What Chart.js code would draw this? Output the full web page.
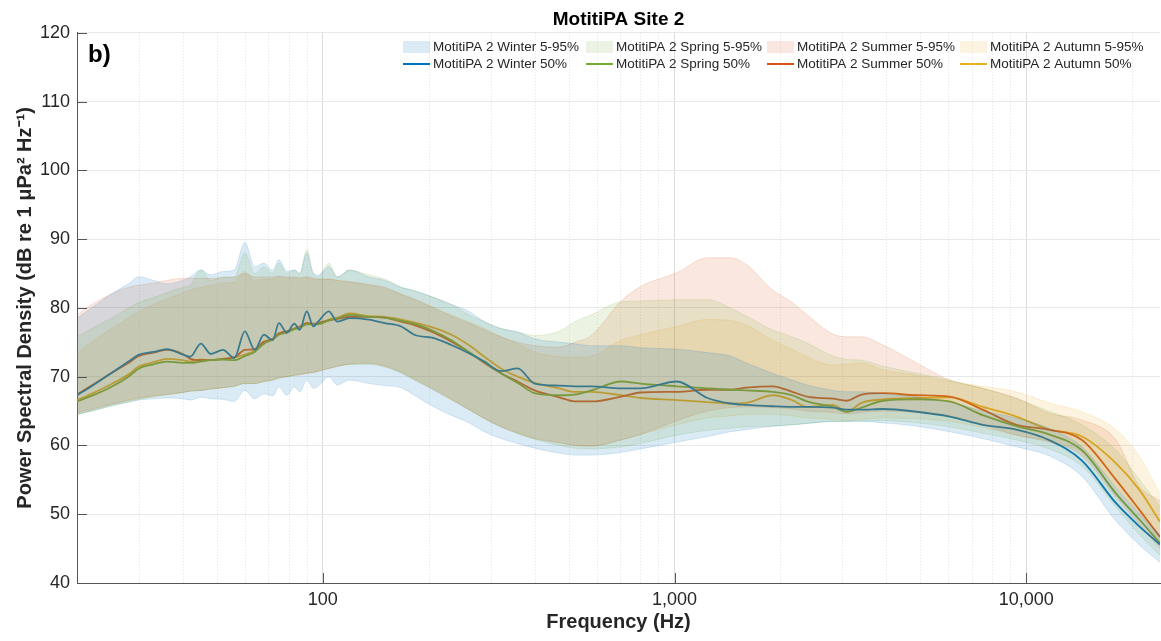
<!DOCTYPE html>
<html>
<head>
<meta charset="utf-8">
<title>MotitiPA Site 2</title>
<script src="https://cdn.jsdelivr.net/npm/chart.js@4.4.1/dist/chart.umd.min.js"></script>
<style>
  html, body { margin:0; padding:0; background:#fff; }
  #wrap { position:relative; width:1161px; height:641px; }
</style>
</head>
<body>
<div id="wrap"><canvas id="psdChart"></canvas></div>
<script>
const FONT = '"Liberation Sans", Arial, Helvetica, sans-serif';
const TEXT = "#262626";

// frequency grid (Hz)
const freqs = [20, 22, 25, 28, 30, 33, 36, 40, 42, 45,
    48, 52, 56, 60, 64, 68, 72, 75, 79, 83,
    86, 90, 94, 97, 104, 110, 119, 135, 150, 167,
    182, 207, 232, 260, 288, 321, 358, 400, 470, 520,
    580, 705, 800, 1015, 1240, 1440, 1600, 1900, 2160, 2380,
    2820, 3090, 3400, 3920, 4880, 6060, 7520, 9370, 11600, 14400,
    18000, 21000, 24000];

const majorTicks = [100, 1000, 10000];
const minorTicks = [30, 40, 50, 60, 70, 80, 90, 200, 300, 400, 500, 600, 700, 800, 900,
    2000, 3000, 4000, 5000, 6000, 7000, 8000, 9000, 20000];
const yTicks = [40, 50, 60, 70, 80, 90, 100, 110, 120];

const seasons = ["Winter", "Spring", "Summer", "Autumn"];
const seasonColors = ["0,114,189", "119,172,48", "217,83,25", "237,177,32"];

// medians (dB)
const winter50 = [67.3, 68.6, 70.5, 72.2, 73.2, 73.6, 74.0, 73.2, 72.9, 74.8,
    73.3, 73.9, 72.7, 76.6, 73.9, 76.1, 75.3, 77.8, 76.4, 77.7,
    76.8, 79.5, 77.3, 78.0, 79.5, 78.0, 78.5, 78.3, 77.8, 77.3,
    76.1, 75.6, 74.6, 73.4, 72.2, 70.8, 71.2, 69.0, 68.7, 68.6,
    68.6, 68.3, 68.3, 69.3, 66.9, 66.1, 65.9, 65.7, 65.6, 65.6,
    65.5, 65.2, 65.2, 65.3, 64.9, 64.2, 63.0, 62.3, 60.8, 57.8,
    51.6, 48.2, 45.6];
const spring50 = [66.4, 67.2, 68.5, 70.0, 71.2, 71.8, 72.2, 72.0, 72.0, 72.2,
    72.4, 72.5, 72.4, 73.0, 73.6, 74.8, 75.4, 76.1, 76.4, 76.9,
    77.1, 77.6, 77.6, 77.6, 78.2, 78.5, 79.0, 78.7, 78.6, 78.1,
    77.7, 76.6, 75.3, 73.6, 72.1, 70.5, 69.1, 67.6, 67.3, 67.4,
    68.0, 69.3, 69.0, 68.6, 68.3, 68.1, 68.0, 67.8, 67.3, 66.4,
    65.6, 64.9, 65.5, 66.5, 66.7, 66.4, 64.4, 62.8, 61.6, 59.3,
    53.0, 49.2, 45.8];
const summer50 = [67.4, 68.7, 70.5, 72.0, 73.0, 73.5, 73.9, 73.3, 72.6, 72.4,
    72.4, 72.6, 72.8, 73.9, 74.0, 75.1, 75.5, 76.3, 76.6, 77.0,
    77.3, 77.8, 77.7, 77.8, 78.2, 78.4, 78.7, 78.7, 78.6, 78.0,
    77.5, 76.4, 75.1, 73.6, 72.0, 70.5, 69.3, 68.0, 67.0, 66.4,
    66.4, 67.1, 67.7, 67.8, 68.1, 68.1, 68.4, 68.6, 67.8, 67.1,
    66.8, 66.5, 67.4, 67.6, 67.3, 67.1, 65.2, 63.0, 62.3, 60.8,
    55.0, 50.6, 46.7];
const autumn50 = [66.6, 67.5, 68.9, 70.3, 71.5, 72.1, 72.6, 72.4, 72.2, 72.5,
    72.4, 72.6, 72.8, 73.2, 73.8, 75.0, 75.5, 76.2, 76.6, 77.0,
    77.2, 77.8, 77.6, 77.7, 78.3, 78.6, 79.2, 78.8, 78.7, 78.3,
    77.9, 77.1, 76.1, 74.6, 72.9, 71.2, 70.0, 69.1, 68.3, 67.8,
    67.8, 67.3, 66.9, 66.6, 66.3, 66.1, 66.2, 67.3, 66.6, 65.6,
    65.9, 64.9, 66.2, 66.7, 66.9, 67.0, 65.6, 64.2, 62.3, 61.3,
    57.4, 53.5, 48.9];

// 95th percentiles
const winter95 = [78.5, 80.0, 82.0, 83.5, 84.5, 84.0, 83.5, 84.0, 84.5, 85.5,
    84.8, 85.3, 85.5, 89.5, 86.0, 86.5, 85.5, 87.0, 85.3, 85.5,
    85.0, 88.0, 85.0, 84.8, 86.0, 84.5, 85.5, 84.5, 84.0, 83.0,
    82.5, 81.5, 80.5, 79.5, 78.0, 77.0, 76.5, 75.5, 75.0, 74.8,
    74.5, 74.5, 74.2, 74.0, 73.5, 73.0, 72.0, 70.5, 69.5, 68.8,
    68.0, 67.8, 67.8, 67.5, 67.0, 66.3, 65.0, 64.0, 62.5, 59.8,
    53.8, 50.0, 47.0];
const spring95 = [75.8, 77.0, 78.5, 80.0, 80.8, 81.5, 82.2, 83.0, 83.3, 85.5,
    84.0, 84.5, 84.5, 88.0, 85.0, 86.0, 85.0, 86.5, 85.0, 85.5,
    85.0, 88.5, 85.0, 84.5, 86.5, 84.5, 85.5, 84.8, 84.2, 83.0,
    82.5, 81.5, 80.5, 79.0, 78.0, 77.0, 76.5, 76.0, 76.6, 78.0,
    79.0, 80.9, 81.0, 81.2, 81.2, 80.0, 78.8, 76.8, 75.8, 74.9,
    73.0, 72.5, 72.4, 71.5, 70.5, 69.5, 68.3, 66.8, 65.0, 63.0,
    59.3, 55.0, 51.1];
const summer95 = [79.0, 80.5, 82.0, 83.0, 83.3, 83.6, 84.0, 84.3, 84.3, 84.3,
    84.3, 84.4, 84.5, 85.0, 84.5, 84.5, 84.5, 84.6, 84.5, 84.5,
    84.4, 84.5, 84.3, 84.2, 84.2, 84.0, 83.8, 83.4, 83.0, 82.0,
    81.3, 80.0, 78.8, 77.8, 76.8, 75.8, 75.0, 74.5, 74.3, 75.0,
    76.0, 81.0, 83.1, 85.1, 87.3, 87.3, 86.3, 82.6, 80.8, 79.0,
    76.2, 75.8, 75.8, 74.6, 72.0, 69.5, 68.3, 66.9, 64.7, 63.7,
    60.8, 54.0, 52.0];
const autumn95 = [73.4, 75.0, 77.0, 78.5, 79.5, 80.5, 81.3, 82.2, 82.6, 83.0,
    83.3, 83.6, 83.8, 85.3, 84.0, 84.2, 84.2, 84.5, 84.3, 84.3,
    84.2, 84.5, 84.2, 84.1, 84.2, 84.0, 83.8, 83.3, 82.8, 82.0,
    81.2, 80.0, 79.0, 78.0, 77.0, 75.8, 74.8, 73.6, 72.9, 72.8,
    73.0, 75.3, 76.1, 77.3, 78.3, 78.2, 77.5, 75.3, 74.0, 72.9,
    71.7, 71.8, 72.0, 71.0, 70.2, 69.3, 68.6, 67.8, 66.2, 64.9,
    62.3, 58.4, 53.0];

// 5th percentiles
const winter05 = [64.5, 65.0, 65.8, 66.3, 66.6, 66.8, 66.9, 66.8, 66.6, 67.0,
    66.8, 66.7, 66.4, 68.0, 66.8, 67.5, 67.2, 68.5, 67.3, 68.5,
    67.8, 69.5, 68.3, 68.6, 70.0, 68.8, 69.5, 69.0, 68.7, 68.4,
    67.3, 65.6, 64.4, 63.3, 62.0, 61.0, 60.3, 59.6, 58.9, 58.6,
    58.6, 59.0, 59.5, 60.5, 61.3, 62.0, 62.3, 62.8, 63.0, 63.2,
    63.5, 63.5, 63.5, 63.3, 62.8, 62.0, 61.0, 59.8, 58.5, 55.5,
    49.0, 45.5, 43.0];
const spring05 = [64.5, 65.0, 65.7, 66.3, 66.7, 67.1, 67.4, 67.7, 67.9, 68.0,
    68.2, 68.4, 68.6, 69.0, 69.0, 69.3, 69.5, 69.8, 70.0, 70.2,
    70.3, 70.5, 70.6, 70.8, 71.2, 71.5, 71.8, 71.8, 71.4, 70.5,
    69.5, 68.0, 66.6, 65.2, 63.9, 62.7, 61.7, 60.9, 60.0, 59.6,
    59.5, 59.8, 60.3, 61.5, 62.2, 62.5, 62.7, 62.8, 63.0, 63.2,
    63.5, 63.5, 63.6, 63.6, 63.3, 62.7, 61.8, 60.8, 59.5, 57.0,
    51.0, 47.0, 44.0];
const summer05 = [64.8, 65.3, 66.0, 66.6, 66.9, 67.2, 67.4, 67.7, 67.9, 68.0,
    68.2, 68.4, 68.6, 69.0, 69.0, 69.3, 69.5, 69.8, 70.0, 70.2,
    70.3, 70.5, 70.6, 70.8, 71.2, 71.5, 71.8, 71.9, 71.5, 70.6,
    69.6, 68.1, 66.7, 65.2, 63.9, 62.7, 61.8, 61.0, 60.4, 60.0,
    59.9, 60.8, 61.6, 63.6, 65.0, 65.5, 65.6, 65.5, 65.3, 65.0,
    64.8, 64.6, 64.8, 65.0, 64.8, 64.3, 63.0, 61.5, 60.5, 58.5,
    52.5, 48.5, 45.0];
const autumn05 = [64.6, 65.1, 65.9, 66.5, 66.8, 67.1, 67.4, 67.7, 67.9, 68.0,
    68.2, 68.4, 68.6, 69.0, 69.0, 69.3, 69.5, 69.8, 70.0, 70.2,
    70.3, 70.5, 70.6, 70.8, 71.2, 71.5, 71.8, 72.0, 71.6, 70.7,
    69.7, 68.2, 66.8, 65.3, 64.0, 62.8, 61.8, 61.0, 60.4, 60.0,
    59.9, 60.8, 61.6, 63.0, 64.0, 64.3, 64.5, 64.5, 64.3, 64.0,
    63.8, 63.6, 63.8, 64.0, 63.9, 63.5, 62.6, 61.5, 60.6, 59.0,
    54.0, 50.0, 46.0];

const p50 = [winter50, spring50, summer50, autumn50];
const p95 = [winter95, spring95, summer95, autumn95];
const p05 = [winter05, spring05, summer05, autumn05];

function toPoints(arr){
    return freqs.map((f, i) => ({x: f, y: arr[i]}));
}

const datasets = [];
seasons.forEach((s, i) => {
    const c = seasonColors[i];
    datasets.push({
        label: `MotitiPA 2 ${s} 5-95%`,
        data: toPoints(p95[i]),
        fill: 3 * i + 1,
        backgroundColor: `rgba(${c},0.14)`,
        borderColor: `rgba(${c},0.2)`,
        borderWidth: 0.8,
        pointRadius: 0,
        cubicInterpolationMode: "monotone",
        order: 0
    });
    datasets.push({
        label: "",
        data: toPoints(p05[i]),
        fill: false,
        borderColor: `rgba(${c},0.2)`,
        borderWidth: 0.8,
        pointRadius: 0,
        cubicInterpolationMode: "monotone",
        order: 0
    });
    datasets.push({
        label: `MotitiPA 2 ${s} 50%`,
        data: toPoints(p50[i]),
        fill: false,
        borderColor: `rgb(${c})`,
        borderWidth: 1.8,
        pointRadius: 0,
        cubicInterpolationMode: "monotone",
        order: 1
    });
});

// dotted minor grid + MATLAB style inner tick marks
const axisExtras = {
    id: "axisExtras",
    beforeDatasetsDraw(chart){
        const {ctx, chartArea, scales} = chart;
        ctx.save();
        ctx.strokeStyle = "#e2e2e2";
        ctx.lineWidth = 1;
        ctx.setLineDash([1, 2]);
        minorTicks.forEach(v => {
            const px = Math.round(scales.x.getPixelForValue(v)) + 0.5;
            ctx.beginPath();
            ctx.moveTo(px, chartArea.top);
            ctx.lineTo(px, chartArea.bottom);
            ctx.stroke();
        });
        ctx.restore();
    },
    afterDatasetsDraw(chart){
        const {ctx, chartArea, scales} = chart;
        ctx.save();
        ctx.strokeStyle = "#555";
        ctx.lineWidth = 1;
        majorTicks.forEach(v => {
            const px = Math.round(scales.x.getPixelForValue(v)) + 0.5;
            ctx.beginPath();
            ctx.moveTo(px, chartArea.bottom);
            ctx.lineTo(px, chartArea.bottom - 10);
            ctx.stroke();
        });
        yTicks.forEach(v => {
            const py = Math.round(scales.y.getPixelForValue(v)) + 0.5;
            ctx.beginPath();
            ctx.moveTo(chartArea.left, py);
            ctx.lineTo(chartArea.left + 10, py);
            ctx.stroke();
        });
        ctx.restore();
    }
};

// legend drawn inside the axes, 2 rows x 4 columns
const legendCols = [403, 586, 767, 960];
const legendRows = [47, 64];
const insideLegend = {
    id: "insideLegend",
    afterDraw(chart){
        const ctx = chart.ctx;
        ctx.save();
        ctx.font = `13.5px ${FONT}`;
        ctx.textBaseline = "middle";
        chart.data.datasets.forEach((ds, idx) => {
            if(!ds.label) return;
            const col = Math.floor(idx / 3);
            const row = idx % 3 === 0 ? 0 : 1;
            const x = legendCols[col];
            const y = legendRows[row];
            if(row === 0){
                ctx.fillStyle = ds.backgroundColor;
                ctx.fillRect(x, y - 6, 27, 12);
            }else{
                ctx.strokeStyle = ds.borderColor;
                ctx.lineWidth = 2;
                ctx.beginPath();
                ctx.moveTo(x, y);
                ctx.lineTo(x + 27, y);
                ctx.stroke();
            }
            ctx.fillStyle = TEXT;
            ctx.fillText(ds.label, x + 30, y);
        });
        ctx.font = `bold 24px ${FONT}`;
        ctx.fillStyle = "#000";
        ctx.fillText("b)", 88, 55);
        ctx.restore();
    }
};

const ctx = document.getElementById("psdChart").getContext("2d");
new Chart(ctx, {
    type: "line",
    data: { datasets },
    options: {
        responsive: true,
        maintainAspectRatio: false,
        animation: false,
        events: [],
        layout: { padding: { top: 1, right: 1, left: 0, bottom: 0 } },
        plugins: {
            legend: { display: false },
            tooltip: { enabled: false },
            title: {
                display: true,
                fullSize: false,
                text: "MotitiPA Site 2",
                color: "#000",
                font: { family: FONT, size: 19, weight: "bold" },
                padding: { top: 7, bottom: 2 }
            }
        },
        scales: {
            x: {
                type: "logarithmic",
                min: 20,
                max: 24000,
                afterBuildTicks: (scale) => {
                    scale.ticks = majorTicks.map(v => ({ value: v, major: true }));
                },
                afterFit: (scale) => { scale.height = 58; },
                ticks: {
                    autoSkip: false,
                    maxRotation: 0,
                    padding: 6,
                    color: TEXT,
                    font: { family: FONT, size: 18 },
                    callback: (v) => Number(v).toLocaleString("en-US")
                },
                grid: { color: "#dcdcdc", drawTicks: false },
                border: { color: "#555", width: 1 },
                title: {
                    display: true,
                    text: "Frequency (Hz)",
                    color: TEXT,
                    font: { family: FONT, size: 20, weight: "bold" },
                    padding: { top: 0, bottom: 7 }
                }
            },
            y: {
                min: 40,
                max: 120,
                afterFit: (scale) => { scale.width = 77; },
                ticks: {
                    stepSize: 10,
                    padding: 7,
                    color: TEXT,
                    font: { family: FONT, size: 18 }
                },
                grid: { color: "#e8e8e8", drawTicks: false },
                border: { color: "#555", width: 1 },
                title: {
                    display: true,
                    text: "Power Spectral Density (dB re 1 \u03bcPa\u00b2 Hz\u207b\u00b9)",
                    color: TEXT,
                    font: { family: FONT, size: 20, weight: "bold" },
                    padding: { top: 13, bottom: 0 }
                }
            }
        }
    },
    plugins: [axisExtras, insideLegend]
});
</script>
</body>
</html>
